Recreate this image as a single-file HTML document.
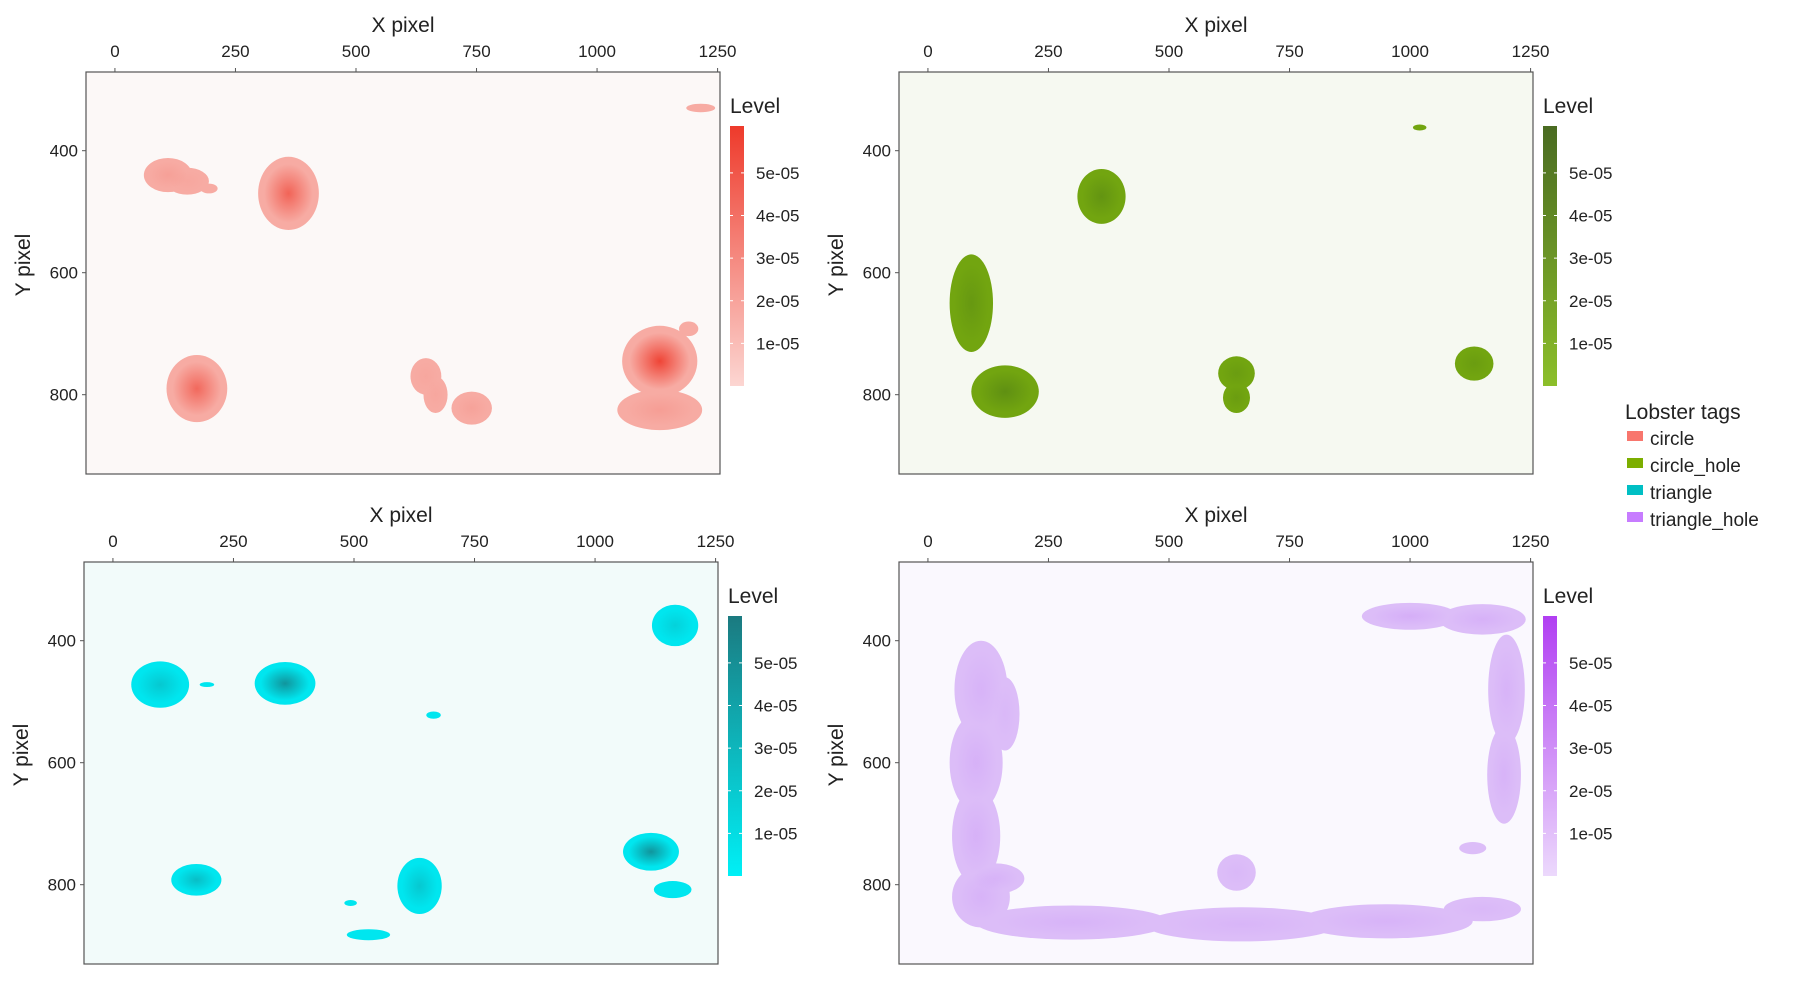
<!DOCTYPE html>
<html><head><meta charset="utf-8"><style>
html,body{margin:0;padding:0;background:#fff;}
svg text{font-family:"Liberation Sans",sans-serif;fill:#222;}
</style></head><body>
<svg id="chart" width="1800" height="994" viewBox="0 0 1800 994" xmlns="http://www.w3.org/2000/svg">
<defs id="defs"></defs>
<g id="root"></g>
<g>
<text x="1625" y="419" font-size="21">Lobster tags</text>
<rect x="1627" y="431" width="16" height="10" fill="#f8766d"/>
<text x="1650" y="445" font-size="19">circle</text>
<rect x="1627" y="458" width="16" height="10" fill="#7cae00"/>
<text x="1650" y="472" font-size="19">circle_hole</text>
<rect x="1627" y="485" width="16" height="10" fill="#00bfc4"/>
<text x="1650" y="499" font-size="19">triangle</text>
<rect x="1627" y="512" width="16" height="10" fill="#c77cff"/>
<text x="1650" y="526" font-size="19">triangle_hole</text>
</g>
</svg>
<script>
const xTicks=[0,250,500,750,1000,1250];
const yTicks=[400,600,800];
const levelTicks=[1e-5,2e-5,3e-5,4e-5,5e-5];
const levelLabels=["1e-05","2e-05","3e-05","4e-05","5e-05"];
// circle
const circleX=[110,150,195,360,1215,1190,1130,170,645,665,740,1130];
const circleY=[440,450,462,470,330,692,745,790,770,800,822,825];
const circleRx=[50,45,18,63,30,20,78,63,32,25,42,88];
const circleRy=[28,22,8,60,7,12,58,55,30,30,27,33];
const circlePeak=[1.5e-5,1.2e-5,1e-5,4.2e-5,1e-5,1e-5,5.6e-5,4e-5,1.2e-5,1.2e-5,1.4e-5,1.6e-5];
// circle_hole
const holeX=[1020,360,90,160,640,640,1133];
const holeY=[362,475,650,795,765,805,749];
const holeRx=[14,50,45,70,38,28,40];
const holeRy=[5,45,80,43,28,25,28];
const holePeak=[1e-5,3e-5,2.5e-5,3.5e-5,2e-5,2e-5,2e-5];
// triangle
const triX=[1166,98,195,357,665,1116,173,636,1161,493,530];
const triY=[375,472,472,470,522,746,792,802,808,830,882];
const triRx=[48,60,15,63,15,58,52,46,39,13,45];
const triRy=[34,38,4,35,6,31,26,46,14,5,9];
const triPeak=[2e-5,2.5e-5,1e-5,5e-5,1e-5,5e-5,3e-5,2.5e-5,1e-5,1e-5,1e-5];
// triangle_hole
const thX=[110,100,100,110,160,140,300,650,950,1150,640,1000,1150,1200,1195,1130];
const thY=[480,600,720,820,520,790,862,865,860,840,780,360,365,480,620,740];
const thRx=[55,55,50,60,30,60,200,200,180,80,40,100,90,38,35,28];
const thRy=[80,80,80,50,60,25,28,28,28,20,30,22,25,90,80,10];
const thPeak=[2e-5,2.2e-5,2.2e-5,2e-5,1.5e-5,2e-5,2e-5,1.8e-5,2e-5,1.5e-5,1.5e-5,2.5e-5,2.2e-5,2e-5,2e-5,1e-5];

const NS="http://www.w3.org/2000/svg";
const root=document.getElementById('root');
const defs=document.getElementById('defs');
function mk(tag,attrs,parent){const e=document.createElementNS(NS,tag);for(const k in attrs)e.setAttribute(k,attrs[k]);(parent||root).appendChild(e);return e;}

const panels=[
 {key:'circle',ox:0,oy:0,bg:'#fcf8f7',base:'#f7aba3',dark:'#ee3a2b',barLo:'#fcd6d2',barHi:'#ee3a2b',X:circleX,Y:circleY,RX:circleRx,RY:circleRy,P:circlePeak},
 {key:'circle-hole',ox:813,oy:0,bg:'#f6f9f1',base:'#72a510',dark:'#4c7a14',barLo:'#8cbf2a',barHi:'#4a6b22',X:holeX,Y:holeY,RX:holeRx,RY:holeRy,P:holePeak},
 {key:'triangle',ox:-2,oy:490,bg:'#f2fbfa',base:'#00e6ef',dark:'#157f86',barLo:'#00f0f6',barHi:'#1b7a80',X:triX,Y:triY,RX:triRx,RY:triRy,P:triPeak},
 {key:'triangle-hole',ox:813,oy:490,bg:'#faf8fe',base:'#dcbdf8',dark:'#c48af5',barLo:'#ecd9fc',barHi:'#b13ff2',X:thX,Y:thY,RX:thRx,RY:thRy,P:thPeak}
];
const maxLevel=6.1e-5;
panels.forEach((p,i)=>{
 const L=86+p.ox,T=72+p.oy,W=634,H=402;
 const sx=v=>L+(v+60)*W/1315;
 const sy=v=>T+(v-271)*H/659;
 const g=mk('g',{});
 
 
 const bg=mk('rect',{x:L,y:T,width:W,height:H,fill:p.bg},g);
 
 
 const clipId='clip'+i;
 const cp=mk('clipPath',{id:clipId},defs);mk('rect',{x:L,y:T,width:W,height:H},cp);
 const gid='grad'+i;
 const rg=mk('radialGradient',{id:gid},defs);
 mk('stop',{offset:'0%','stop-color':p.dark,'stop-opacity':1},rg);
 mk('stop',{offset:'100%','stop-color':p.dark,'stop-opacity':0},rg);
 const blobs=mk('g',{'clip-path':'url(#'+clipId+')'},g);
 
 
 for(let k=0;k<p.X.length;k++){
  const cx=sx(p.X[k]),cy=sy(p.Y[k]),rx=(p.RX[k])*W/1315,ry=(p.RY[k])*H/659;
  const e=mk('ellipse',{cx:cx,cy:cy,rx:rx,ry:ry,fill:p.base},blobs);
  
  
 }
 for(let k=0;k<p.X.length;k++){
  const cx=sx(p.X[k]),cy=sy(p.Y[k]),rx=(p.RX[k])*W/1315*0.8,ry=(p.RY[k])*H/659*0.8;
  const a=Math.max(0,(p.P[k]-1e-5)/maxLevel*1.2);
  const e=mk('ellipse',{cx:cx,cy:cy,rx:rx,ry:ry,fill:'url(#'+gid+')','fill-opacity':a},blobs);
  
  
 }
 const fr=mk('rect',{x:L,y:T,width:W,height:H,fill:'none',stroke:'#555','stroke-width':1.2},g);
 
 
 xTicks.forEach(v=>{
  mk('line',{x1:sx(v),x2:sx(v),y1:T-4,y2:T,stroke:'#555'},g);
  const t=mk('text',{x:sx(v),y:T-15,'font-size':17,'text-anchor':'middle'},g);t.textContent=v;
  
  
 });
 yTicks.forEach(v=>{
  mk('line',{x1:L-4,x2:L,y1:sy(v),y2:sy(v),stroke:'#555'},g);
  const t=mk('text',{x:L-8,y:sy(v)+6,'font-size':17,'text-anchor':'end'},g);t.textContent=v;
  
  
 });
 const xt=mk('text',{x:L+317,y:T-40,'font-size':21,'text-anchor':'middle'},g);xt.textContent='X pixel';
 
 
 const yt=mk('text',{x:0,y:0,'font-size':21,'text-anchor':'middle',transform:'translate('+(L-56)+','+(T+H/2-8)+') rotate(-90)'},g);yt.textContent='Y pixel';
 
 
 const bx=L+W+10,bt=T+54,bb=T+314;
 const lg=mk('linearGradient',{id:'cb'+i,x1:0,y1:1,x2:0,y2:0},defs);
 mk('stop',{offset:'0%','stop-color':p.barLo},lg);
 mk('stop',{offset:'100%','stop-color':p.barHi},lg);
 const cb=mk('rect',{x:bx,y:bt,width:14,height:bb-bt,fill:'url(#cb'+i+')'},g);
 
 
 const lt=mk('text',{x:bx,y:T+41,'font-size':21},g);lt.textContent='Level';
 
 
 const ly=v=>bb-v/maxLevel*(bb-bt);
 levelTicks.forEach((v,j)=>{
  mk('line',{x1:bx,x2:bx+3,y1:ly(v),y2:ly(v),stroke:'#fff'},g);
  mk('line',{x1:bx+11,x2:bx+14,y1:ly(v),y2:ly(v),stroke:'#fff'},g);
  const t=mk('text',{x:bx+26,y:ly(v)+6,'font-size':17},g);t.textContent=levelLabels[j];
  
  
 });
});
</script>
</body></html>
